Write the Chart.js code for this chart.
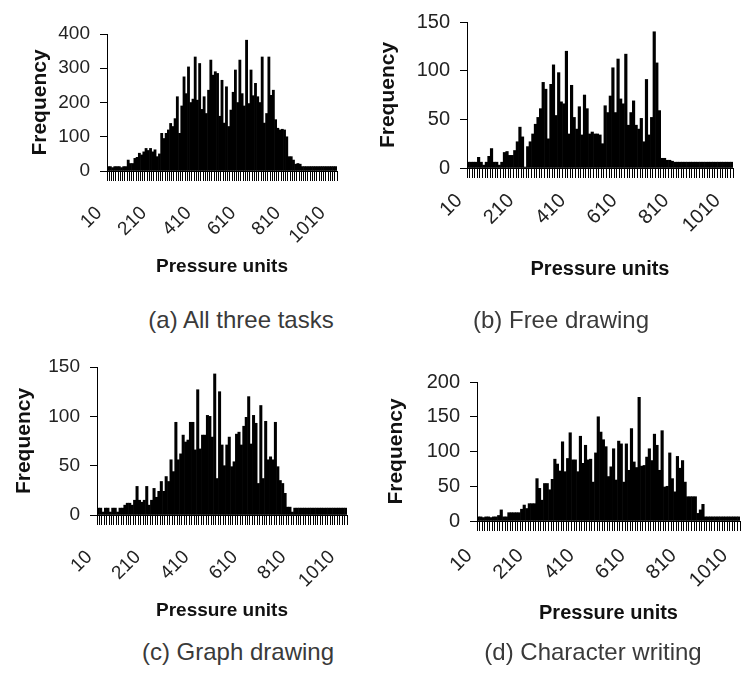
<!DOCTYPE html>
<html>
<head>
<meta charset="utf-8">
<script src="https://cdn.jsdelivr.net/npm/chart.js@4"></script>
<style>
  body { margin: 0; background: #fff; }
  #page { position: relative; width: 742px; height: 677px; overflow: hidden; background: #fff; }
  #page canvas { position: absolute; }
  .caption {
    position: absolute;
    font-family: "Liberation Sans", Arial, sans-serif;
    font-size: 24px;
    line-height: 24px;
    color: #3a3a3a;
    white-space: nowrap;
    transform: translateX(-50%);
  }
</style>
</head>
<body>
<div id="page">
  <!-- canvases are wider than their slot so the last rotated tick has room; backgrounds stay transparent -->
  <canvas id="chartA" width="400" height="290" style="left:0px;top:0px"></canvas>
  <canvas id="chartB" width="400" height="290" style="left:371px;top:0px"></canvas>
  <canvas id="chartC" width="400" height="290" style="left:0px;top:345px"></canvas>
  <canvas id="chartD" width="400" height="290" style="left:371px;top:345px"></canvas>
  <div class="caption" style="left:241px;top:308px">(a) All three tasks</div>
  <div class="caption" style="left:561px;top:308px">(b) Free drawing</div>
  <div class="caption" style="left:238px;top:640px">(c) Graph drawing</div>
  <div class="caption" style="left:593px;top:640px">(d) Character writing</div>
</div>
<script>
// pressure bins: 10, 20, ... 1030
const bins = [];
for (let b = 10; b <= 1030; b += 10) bins.push(b);

// every 20th bin gets a label
const shownLabels = [10, 210, 410, 610, 810, 1010];

const allTasks = [
  13, 13, 10, 13, 13, 13, 10, 13, 13, 32,
  22, 22, 37, 40, 52, 47, 56, 66, 60, 66,
  56, 62, 42, 50, 110, 95, 110, 120, 139, 130,
  153, 217, 110, 190, 275, 226, 304, 200, 210, 333,
  207, 314, 180, 217, 168, 236, 324, 280, 290, 285,
  160, 265, 140, 246, 130, 178, 230, 295, 200, 324,
  226, 190, 382, 197, 295, 220, 256, 217, 200, 333,
  140, 168, 333, 221, 236, 150, 125, 120, 122, 120,
  100, 42, 42, 32, 20, 22, 20, 13, 13, 13,
  13, 13, 13, 13, 13, 13, 13, 13, 13, 13,
  13, 13, 13
];

const freeDrawing = [
  6, 6, 6, 6, 11, 6, 3, 6, 12, 20,
  6, 6, 3, 6, 16, 17, 13, 13, 18, 27,
  42, 32, 1, 22, 27, 35, 45, 52, 61, 88,
  81, 30, 86, 106, 54, 98, 68, 66, 120, 35,
  85, 52, 40, 63, 34, 75, 61, 35, 37, 35,
  35, 34, 25, 64, 57, 74, 103, 57, 112, 71,
  66, 117, 44, 57, 69, 44, 40, 51, 27, 91,
  34, 52, 140, 108, 59, 10, 10, 8, 8, 7,
  6, 6, 6, 6, 6, 6, 6, 6, 6, 6,
  6, 6, 6, 6, 6, 6, 6, 6, 6, 6,
  6, 6, 6
];

const graphDrawing = [
  7, 7, 3, 7, 7, 3, 7, 7, 3, 7,
  7, 10, 12, 12, 10, 15, 29, 15, 13, 15,
  29, 10, 15, 27, 18, 24, 34, 24, 39, 34,
  56, 44, 94, 56, 62, 81, 74, 76, 94, 94,
  66, 127, 67, 81, 81, 101, 100, 79, 143, 37,
  125, 71, 50, 71, 79, 49, 54, 82, 84, 71,
  90, 99, 120, 72, 101, 93, 32, 111, 37, 95,
  56, 59, 56, 94, 49, 35, 32, 22, 8, 8,
  3, 7, 7, 7, 7, 7, 7, 7, 7, 7,
  7, 7, 7, 7, 7, 7, 7, 7, 7, 7,
  7, 7, 7
];

const characterWriting = [
  6, 6, 5, 6, 6, 5, 6, 6, 8, 16,
  6, 6, 12, 12, 12, 12, 12, 17, 23, 18,
  25, 25, 25, 61, 47, 30, 54, 54, 45, 60,
  89, 82, 72, 114, 71, 90, 127, 88, 88, 71,
  122, 83, 109, 88, 89, 56, 98, 150, 128, 117,
  107, 64, 78, 104, 59, 115, 111, 56, 111, 73,
  133, 85, 77, 178, 79, 80, 92, 104, 87, 125,
  109, 73, 130, 49, 50, 98, 61, 42, 93, 76,
  87, 56, 35, 35, 35, 35, 11, 16, 24, 6,
  6, 6, 6, 6, 6, 6, 6, 6, 6, 6,
  6, 6, 6
];

const FONT = '"Liberation Sans", Arial, sans-serif';

// g: plot box inside the canvas, where the axis titles and tick labels sit, font sizes
function histogram(id, values, yMax, yStep, g) {
  const canvas = document.getElementById(id);
  const W = canvas.width, H = canvas.height;
  return new Chart(canvas, {
    type: 'bar',
    data: {
      labels: bins,
      datasets: [{
        data: values,
        backgroundColor: '#000',
        borderWidth: 0,
        barPercentage: 1,
        categoryPercentage: 1,
        inflateAmount: 0.3
      }]
    },
    options: {
      responsive: false,
      animation: false,
      layout: { padding: { left: 0, top: g.top, right: W - g.right, bottom: 0 } },
      plugins: { legend: { display: false }, tooltip: { enabled: false } },
      scales: {
        x: {
          grid: { display: true, drawOnChartArea: false, drawTicks: true, tickLength: 10, color: '#000', lineWidth: 1 },
          border: { display: true, color: '#000', width: 1 },
          ticks: {
            autoSkip: false,
            minRotation: 45,
            maxRotation: 45,
            padding: g.labelGap,
            labelOffset: -9,
            color: '#222',
            font: { family: FONT, size: g.labelSize },
            callback: (v, i) => shownLabels.includes(bins[i]) ? String(bins[i]) : ''
          },
          title: {
            display: true,
            text: 'Pressure units',
            color: '#111',
            font: { family: FONT, size: g.unitSize, weight: 'bold', lineHeight: 1.2 },
            padding: { top: 0, bottom: H - g.xTitleY - g.unitSize * 0.6 }
          },
          afterFit: (scale) => { scale.height = H - g.bottom; }
        },
        y: {
          min: 0,
          max: yMax,
          grid: { display: true, drawOnChartArea: false, drawTicks: true, tickLength: 7, color: '#000', lineWidth: 1 },
          border: { display: true, color: '#000', width: 1 },
          ticks: {
            stepSize: yStep,
            padding: 10,
            color: '#222',
            font: { family: FONT, size: g.labelSize }
          },
          title: {
            display: true,
            text: 'Frequency',
            color: '#111',
            font: { family: FONT, size: 21, weight: 'bold', lineHeight: 1.2 },
            padding: { top: g.yTitleX - 12.6, bottom: 0 }
          },
          afterFit: (scale) => { scale.width = g.left; }
        }
      }
    }
  });
}

histogram('chartA', allTasks, 400, 100, { left: 107, right: 337, top: 34, bottom: 171, yTitleX: 40, xTitleY: 267, labelSize: 19, unitSize: 19, labelGap: 21 });
histogram('chartB', freeDrawing, 150, 50, { left: 96, right: 362, top: 20, bottom: 168, yTitleX: 17, xTitleY: 269, labelSize: 20, unitSize: 20, labelGap: 11 });
histogram('chartC', graphDrawing, 150, 50, { left: 97, right: 347, top: 22, bottom: 170, yTitleX: 24, xTitleY: 266, labelSize: 19, unitSize: 19, labelGap: 21 });
histogram('chartD', characterWriting, 200, 50, { left: 106, right: 369, top: 37, bottom: 176, yTitleX: 25, xTitleY: 268, labelSize: 20, unitSize: 20, labelGap: 13 });
</script>
</body>
</html>
